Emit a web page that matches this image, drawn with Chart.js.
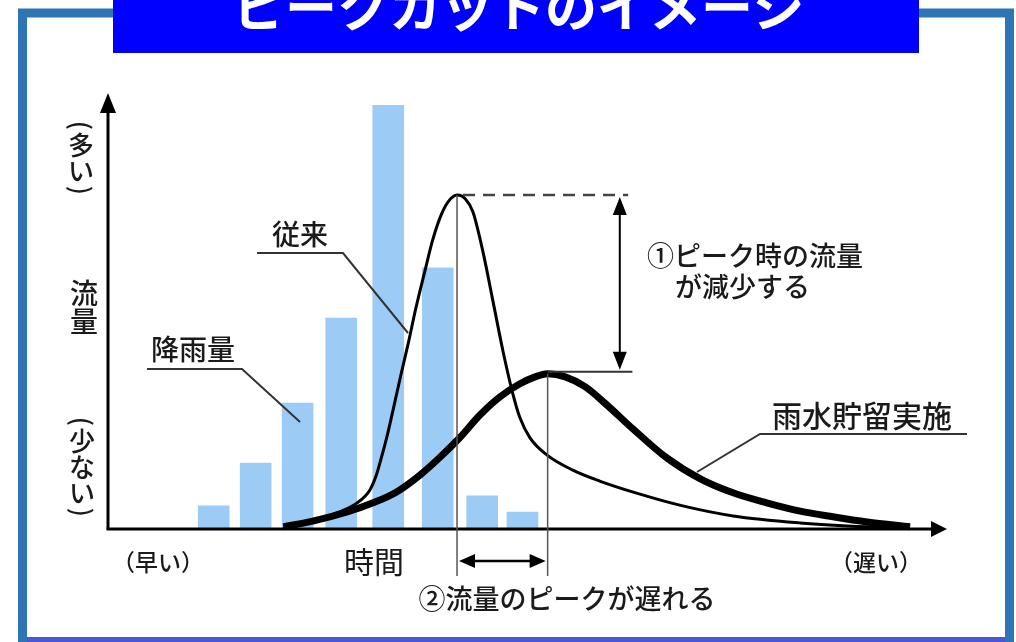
<!DOCTYPE html>
<html><head><meta charset="utf-8">
<script src="https://cdn.jsdelivr.net/npm/chart.js@4"></script>
<style>html,body{margin:0;padding:0;background:#fff;overflow:hidden}#c{display:block}</style>
</head><body>
<canvas id="c" width="1016" height="642"></canvas>
<script>
// ---- data (arbitrary units: time 0-100, amount 0-100) ----
const TITLE = 'ピークカットのイメージ';
const rainTime = [12.6, 17.6, 22.6, 27.8, 33.4, 39.3, 44.6, 49.4];
const rainfall = [5.3, 15.1, 28.9, 48.4, 97.2, 59.9, 7.6, 3.9];
const conventionalTime = [20.9, 26.5, 29.7, 31.2, 31.9, 32.5, 33.3, 34.0, 34.8, 35.8, 36.7, 37.8, 38.7, 39.7, 40.6, 41.6, 42.6, 43.5, 44.7, 45.9, 47.1, 48.2, 49.1, 50.3, 52.3, 55.4, 58.6, 63.4, 68.5, 74.5, 82.5, 90.5, 95.6];
const conventionalFlow = [0.2, 3.2, 6.0, 8.9, 11.9, 15.8, 21.6, 27.5, 34.4, 42.7, 50.7, 59.4, 66.3, 72.0, 75.2, 76.6, 75.7, 72.7, 63.5, 52.1, 40.6, 31.4, 25.5, 20.9, 17.0, 13.5, 11.0, 8.0, 5.3, 3.0, 1.4, 0.5, 0.2];
const storageTime = [20.9, 24.4, 28.5, 31.6, 34.4, 37.2, 39.6, 42.0, 44.3, 46.7, 49.1, 50.9, 52.4, 54.5, 56.9, 59.2, 62.6, 66.6, 70.6, 74.5, 78.5, 82.5, 86.4, 90.5, 95.6];
const storageFlow = [0.5, 1.8, 3.9, 6.0, 8.5, 12.4, 16.5, 21.1, 26.1, 30.3, 33.3, 34.9, 35.6, 34.9, 32.6, 28.9, 22.9, 16.3, 11.5, 8.3, 6.0, 4.1, 2.8, 1.6, 0.5];
const labels = {
  seriesRain: '降雨量', seriesConv: '従来', seriesStore: '雨水貯留実施',
  yTop: '(多い)', yMid: '流量', yBottom: '(少ない)',
  xLeft: '（早い）', xMid: '時間', xRight: '（遅い）',
  note1a: '①ピーク時の流量', note1b: 'が減少する', note2: '②流量のピークが遅れる'
};
const annotX = { dashEnd: 62.0, vArrow: 61.0, peakLineEnd: 62.5 };

const FONT = '"Noto Sans CJK JP","Noto Sans",sans-serif';
const pts = (xs, ys) => xs.map((x, i) => ({ x, y: ys[i] }));
const argmax = a => a.reduce((m, v, i) => v > a[m] ? i : m, 0);

function line(ctx, coords, w, color, dash) {
  ctx.save(); ctx.beginPath(); ctx.lineWidth = w; ctx.strokeStyle = color;
  ctx.setLineDash(dash || []); ctx.lineJoin = 'miter';
  ctx.moveTo(coords[0][0], coords[0][1]);
  for (let i = 1; i < coords.length; i++) ctx.lineTo(coords[i][0], coords[i][1]);
  ctx.stroke(); ctx.restore();
}
function head(ctx, tx, ty, dx, dy, len, half) {
  const px = -dy, py = dx;
  ctx.save(); ctx.fillStyle = '#000'; ctx.beginPath();
  ctx.moveTo(tx, ty);
  ctx.lineTo(tx - dx * len + px * half, ty - dy * len + py * half);
  ctx.lineTo(tx - dx * len - px * half, ty - dy * len - py * half);
  ctx.closePath(); ctx.fill(); ctx.restore();
}
function text(ctx, s, x, y, size, align, weight) {
  ctx.save(); ctx.fillStyle = '#1a1a1a';
  ctx.font = `${weight || 500} ${size}px ${FONT}`;
  ctx.textAlign = align || 'center'; ctx.textBaseline = 'middle';
  ctx.fillText(s, x, y); ctx.restore();
}
function vText(ctx, s, cx, cy, size) {
  const chars = [...s];
  const adv = chars.map(c => '()'.includes(c) ? size * 0.5 : size);
  const total = adv.reduce((a, b) => a + b, 0);
  let y = cy - total / 2;
  ctx.save(); ctx.fillStyle = '#1a1a1a';
  ctx.font = `500 ${size}px ${FONT}`; ctx.textAlign = 'center'; ctx.textBaseline = 'middle';
  chars.forEach((c, i) => {
    const m = y + adv[i] / 2;
    if ('()'.includes(c)) { ctx.save(); ctx.translate(cx, m); ctx.rotate(Math.PI / 2); ctx.fillText(c, 0, 0); ctx.restore(); }
    else ctx.fillText(c, cx, m);
    y += adv[i];
  });
  ctx.restore();
}

const overlay = {
  id: 'overlay',
  beforeDraw(chart) {
    const ctx = chart.ctx; ctx.save(); ctx.fillStyle = '#fff';
    ctx.fillRect(0, 0, chart.width, chart.height); ctx.restore();
  },
  afterDatasetsDraw(chart) {
    const ctx = chart.ctx, xs = chart.scales.x, ys = chart.scales.y, ca = chart.chartArea;
    const X = v => xs.getPixelForValue(v), Y = v => ys.getPixelForValue(v);
    const x0 = X(0), y0 = Y(0);
    // axes with arrows
    line(ctx, [[x0, y0], [x0, ca.top + 14]], 3, '#000');
    head(ctx, x0, ca.top, 0, -1, 20, 8);
    line(ctx, [[x0 - 1.5, y0], [ca.right - 14, y0]], 3, '#000');
    head(ctx, ca.right, y0, 1, 0, 16, 8);

    const ci = argmax(conventionalFlow), si = argmax(storageFlow);
    const pcx = X(conventionalTime[ci]), pcy = Y(conventionalFlow[ci]);
    const psx = X(storageTime[si]), psy = Y(storageFlow[si]);
    // guide lines
    line(ctx, [[pcx, pcy], [pcx, y0 + 47]], 1.5, '#555');
    line(ctx, [[psx, psy], [psx, y0 + 47]], 1.5, '#555');
    line(ctx, [[pcx + 6, pcy], [X(annotX.dashEnd), pcy]], 2.5, '#444', [12, 8]);
    line(ctx, [[psx, psy - 2], [X(annotX.peakLineEnd), psy - 2]], 2, '#333');
    // vertical double arrow
    const va = X(annotX.vArrow);
    line(ctx, [[va, pcy + 15], [va, psy - 17]], 2, '#000');
    head(ctx, va, pcy + 2, 0, -1, 18, 7);
    head(ctx, va, psy - 4, 0, 1, 18, 7);
    // horizontal double arrow
    const ha = y0 + 32;
    line(ctx, [[pcx + 12, ha], [psx - 12, ha]], 2.5, '#000');
    head(ctx, pcx + 2, ha, -1, 0, 16, 7);
    head(ctx, psx - 2, ha, 1, 0, 16, 7);

    // leader lines
    line(ctx, [[257, 253], [343, 253], [408, 333]], 2, '#333');
    line(ctx, [[147, 369], [242, 369], [300, 422]], 2, '#333');
    line(ctx, [[967, 434], [760, 434], [697, 472]], 2, '#333');

    // texts
    text(ctx, labels.seriesConv, 300, 234, 28);
    text(ctx, labels.seriesRain, 193, 349, 28);
    text(ctx, labels.seriesStore, 772, 416, 30, 'left');
    text(ctx, labels.note1a, 647, 256, 27, 'left');
    text(ctx, labels.note1b, 675, 287, 27, 'left');
    text(ctx, labels.note2, 567, 599, 27);
    text(ctx, labels.xLeft, 158, 562, 23);
    text(ctx, labels.xMid, 374, 562, 30, 'center', 400);
    text(ctx, labels.xRight, 876, 562, 23);
    vText(ctx, labels.yTop, 81, 158, 26);
    vText(ctx, labels.yMid, 84, 307, 28);
    vText(ctx, labels.yBottom, 82, 467, 26);

    // frame
    ctx.save(); ctx.strokeStyle = '#2e75b6'; ctx.lineWidth = 9;
    ctx.strokeRect(22.5, 13, 987, 629); ctx.restore();
    ctx.save(); ctx.fillStyle = '#4a55d8'; ctx.fillRect(27, 637, 978, 5); ctx.restore();
    // title box
    ctx.save(); ctx.fillStyle = '#0000ff'; ctx.fillRect(113, 0, 806, 53);
    ctx.fillStyle = '#fff'; ctx.font = `bold 52px ${FONT}`; ctx.textAlign = 'center';
    ctx.textBaseline = 'alphabetic'; ctx.fillText(TITLE, 519, 27); ctx.restore();
  }
};

new Chart(document.getElementById('c'), {
  data: {
    datasets: [
      { type: 'bar', label: labels.seriesRain, data: pts(rainTime, rainfall),
        backgroundColor: '#9ccbf6', borderWidth: 0, barThickness: 31, order: 3 },
      { type: 'line', label: labels.seriesConv, data: pts(conventionalTime, conventionalFlow),
        borderColor: '#000', borderWidth: 3, pointRadius: 0, fill: false,
        cubicInterpolationMode: 'monotone', clip: 10, order: 1 },
      { type: 'line', label: labels.seriesStore, data: pts(storageTime, storageFlow),
        borderColor: '#000', borderWidth: 7, pointRadius: 0, fill: false,
        cubicInterpolationMode: 'monotone', clip: 10, order: 2 }
    ]
  },
  options: {
    responsive: false, devicePixelRatio: 1, animation: false,
    layout: { padding: { left: 108, top: 93, right: 69, bottom: 113 } },
    scales: {
      x: { type: 'linear', min: 0, max: 100, display: false, offset: false },
      y: { type: 'linear', min: 0, max: 100, display: false }
    },
    plugins: { legend: { display: false }, tooltip: { enabled: false } }
  },
  plugins: [overlay]
});
</script>
</body></html>
